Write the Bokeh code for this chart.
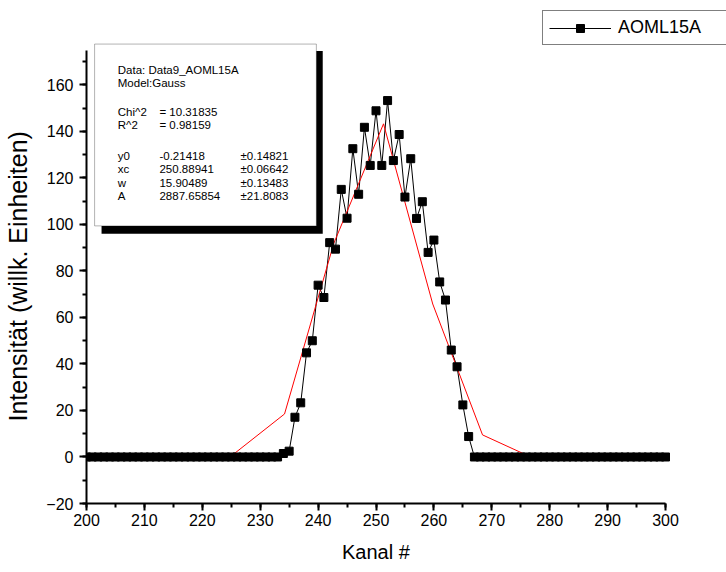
from bokeh.plotting import figure
from bokeh.models import (Range1d, SingleIntervalTicker, Legend, LegendItem,
                          BoxAnnotation, Label, ColumnDataSource)
from bokeh.embed import file_html
from bokeh.resources import INLINE

# ---- data ----
channels = list(range(200, 301))
counts = [
    0, 0, 0, 0, 0, 0, 0, 0, 0, 0,          # 200-209
    0, 0, 0, 0, 0, 0, 0, 0, 0, 0,          # 210-219
    0, 0, 0, 0, 0, 0, 0, 0, 0, 0,          # 220-229
    0, 0, 0, 0,                            # 230-233
    1.5, 2.5, 17.1, 23.3, 44.8, 50.0,      # 234-239
    73.9, 68.6, 92.2, 89.4, 115.1, 102.7,  # 240-245
    132.6, 113.0, 141.8, 125.4, 148.9,     # 246-250
    125.4, 153.3, 127.5, 138.7, 111.8,     # 251-255
    128.3, 102.6, 109.8, 88.0, 93.3,       # 256-260
    75.3, 67.5, 46.0, 38.8, 22.4, 8.8,     # 261-266
    0, 0, 0,                               # 267-269
    0, 0, 0, 0, 0, 0, 0, 0, 0, 0,          # 270-279
    0, 0, 0, 0, 0, 0, 0, 0, 0, 0,          # 280-289
    0, 0, 0, 0, 0, 0, 0, 0, 0, 0,          # 290-299
    0,                                     # 300
]

fit_x = [200.0, 208.5, 217.1, 225.6, 234.2, 242.7, 251.3, 259.8, 268.4, 276.9, 285.5, 294.0, 300.0]
fit_y = [-0.21, -0.21, -0.1, 1.6, 18.5, 91.8, 143.3, 65.8, 9.5, -0.2, -0.21, -0.21, -0.21]

series_name = "AOML15A"
x_title = "Kanal #"
y_title = "Intensität (willk. Einheiten)"

info_col1 = ["Data: Data9_AOML15A", "Model:Gauss", "Chi^2", "R^2", "y0", "xc", "w", "A"]
info_col2 = ["", "", "= 10.31835", "= 0.98159", "-0.21418", "250.88941", "15.90489", "2887.65854"]
info_col3 = ["", "", "", "", "±0.14821", "±0.06642", "±0.13483", "±21.8083"]

FONT = "Liberation Sans"
NBSP = "\u00a0"

p = figure(width=726, height=572, output_backend="svg", toolbar_location=None,
           x_range=Range1d(200, 310.535), y_range=Range1d(-20, 196.34),
           min_border_left=86, min_border_right=0, min_border_top=0, min_border_bottom=69,
           title=None)
p.background_fill_color = "white"
p.border_fill_color = "white"
p.outline_line_color = None
p.grid.visible = False

# info box (shadow + white box), in data coordinates
p.add_layout(BoxAnnotation(left=202.6, right=240.8, top=174.6, bottom=96.0,
                           fill_color="black", fill_alpha=1.0, line_color=None))
p.add_layout(BoxAnnotation(left=201.4, right=239.7, top=177.6, bottom=99.4,
                           fill_color="white", fill_alpha=1.0, line_color="black", line_width=1))

src = ColumnDataSource(dict(x=channels, y=counts))
line_r = p.line("x", "y", source=src, line_color="black", line_width=1)
fit_r = p.line(fit_x, fit_y, line_color="red", line_width=1)
scat_r = p.scatter("x", "y", source=src, marker="square", size=8,
                   fill_color="black", line_color="black")

# info text
row_y = [166.45, 160.86, 148.39, 142.80, 129.25, 123.66, 118.06, 112.47]
col_x = [205.4, 212.6, 226.6]
for i, yy in enumerate(row_y):
    for cx, col in zip(col_x, (info_col1, info_col2, info_col3)):
        if col[i]:
            p.add_layout(Label(x=cx, y=yy, text=col[i], text_font=FONT,
                               text_font_size="11.5px", text_baseline="middle",
                               text_align="left", text_color="black"))

# axes
for ax in (p.xaxis[0], p.yaxis[0]):
    ax.axis_line_width = 2
    ax.axis_line_color = "black"
    ax.major_tick_line_width = 2
    ax.minor_tick_line_width = 2
    ax.major_tick_out = 7
    ax.major_tick_in = 0
    ax.minor_tick_out = 4
    ax.minor_tick_in = 0
    ax.major_label_text_font = FONT
    ax.major_label_text_font_size = "16px"
    ax.major_label_text_color = "black"
    ax.axis_label_text_font = FONT
    ax.axis_label_text_font_style = "normal"
    ax.axis_label_text_color = "black"

p.xaxis.ticker = SingleIntervalTicker(interval=10, num_minor_ticks=2)
p.yaxis.ticker = SingleIntervalTicker(interval=20, num_minor_ticks=2)
p.xaxis.bounds = (200, 300)
p.yaxis.bounds = (-20, 175)
# trailing no-break spaces centre the titles on the axis spans rather than the frame
p.xaxis.axis_label = x_title + NBSP * 11
p.yaxis.axis_label = y_title + NBSP * 7
p.xaxis.axis_label_text_font_size = "20px"
p.yaxis.axis_label_text_font_size = "25px"
p.xaxis.major_label_standoff = 3
p.yaxis.major_label_standoff = 6
p.xaxis.axis_label_standoff = 12
p.yaxis.axis_label_standoff = 11

legend = Legend(items=[LegendItem(label=series_name, renderers=[line_r, scat_r])],
                location=(456, 458), orientation="vertical")
legend.label_text_font = FONT
legend.label_text_font_size = "18px"
legend.label_text_color = "black"
legend.border_line_color = "black"
legend.border_line_width = 1
legend.background_fill_color = "white"
legend.background_fill_alpha = 1.0
legend.padding = 6
legend.margin = 0
legend.spacing = 0
legend.glyph_width = 62
legend.glyph_height = 20
legend.label_standoff = 7
legend.label_width = 125
p.add_layout(legend)

open("out.html", "w").write(file_html(p, INLINE))
